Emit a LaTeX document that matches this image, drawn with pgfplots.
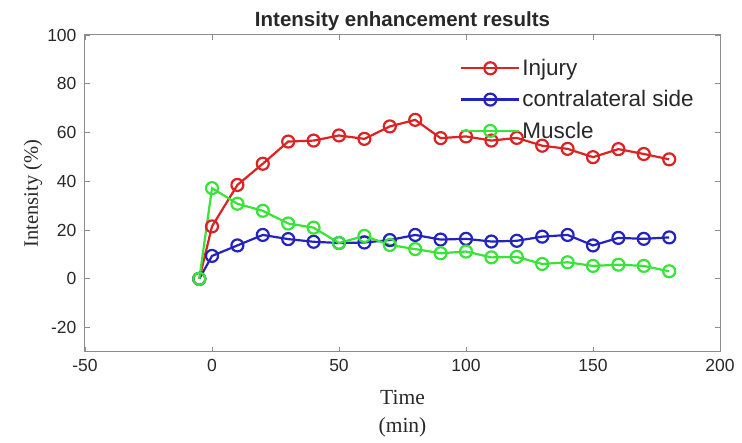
\documentclass[border=0pt]{standalone}
\usepackage{fontspec}
\setmainfont{Liberation Serif}
\setsansfont{Liberation Sans}
\usepackage{pgfplots}
\pgfplotsset{compat=1.18}

\definecolor{cInjury}{RGB}{220,35,35}
\definecolor{cContra}{RGB}{35,35,190}
\definecolor{cMuscle}{RGB}{55,228,55}
\definecolor{axgray}{RGB}{140,140,140}
\definecolor{txtgray}{RGB}{40,40,40}

\begin{document}
\begin{tikzpicture}
\useasboundingbox (-85pt,-91pt) rectangle (657pt,352pt);
\begin{axis}[
  scale only axis,
  width=635pt, height=317pt,
  xmin=-50, xmax=200, ymin=-30, ymax=100,
  xtick={-50,0,50,100,150,200},
  ytick={-20,0,20,40,60,80,100},
  tick align=inside,
  major tick length=5pt,
  axis line style={axgray, line width=1pt},
  every tick/.style={axgray, line width=0.8pt},
  tick label style={font=\sffamily\fontsize{17.5}{17.5}\selectfont, text=txtgray},
  /pgf/number format/assume math mode=true,
  xticklabel style={yshift=-4pt},
  yticklabel style={xshift=-5pt},
  title={\sffamily\bfseries\fontsize{20.5}{20.5}\selectfont Intensity enhancement results},
  title style={yshift=-5pt, text=txtgray},
  xlabel={Time\\(min)},
  xlabel style={font=\fontsize{21.5}{28}\selectfont, align=center, text=txtgray, yshift=-11pt},
  ylabel={Intensity (\%)},
  ylabel style={font=\fontsize{20.5}{20.5}\selectfont, text=txtgray, yshift=-2pt},
  every axis plot/.append style={line width=2.2pt, mark=o, mark size=6pt},
  legend style={draw=none, fill=none, at={(0.5906,0.93)}, anchor=north west,
    font=\sffamily\fontsize{22.5}{22.5}\selectfont, text=txtgray,
    row sep=9.5pt, inner sep=0pt},
  legend cell align=left,
  legend image code/.code={%
    \draw[#1, mark repeat=2, mark phase=2] plot coordinates {(0pt,0pt) (29pt,0pt) (58pt,0pt)};},
]
\addplot[cInjury] coordinates {
  (-5,0) (0,21.5) (10,38.5) (20,47.2) (30,56.3) (40,56.7) (50,58.8) (60,57.4)
  (70,62.5) (80,65.2) (90,57.7) (100,58.4) (110,56.7) (120,57.8) (130,54.6)
  (140,53.3) (150,49.9) (160,53.2) (170,51.2) (180,49.0)
};
\addlegendentry{Injury}
\addplot[cContra] coordinates {
  (-5,0) (0,9.4) (10,13.7) (20,18.0) (30,16.3) (40,15.2) (50,14.7) (60,14.9)
  (70,15.9) (80,18.0) (90,16.1) (100,16.4) (110,15.3) (120,15.6) (130,17.3)
  (140,18.0) (150,13.7) (160,16.8) (170,16.4) (180,17.0)
};
\addlegendentry{contralateral side}
\addplot[cMuscle] coordinates {
  (-5,0) (0,37.2) (10,30.8) (20,27.9) (30,22.7) (40,21.0) (50,14.7) (60,17.6)
  (70,13.9) (80,12.2) (90,10.5) (100,11.2) (110,8.8) (120,9.0) (130,6.1)
  (140,6.8) (150,5.3) (160,5.8) (170,5.3) (180,3.1)
};
\addlegendentry{Muscle}
\end{axis}
\end{tikzpicture}
\end{document}
